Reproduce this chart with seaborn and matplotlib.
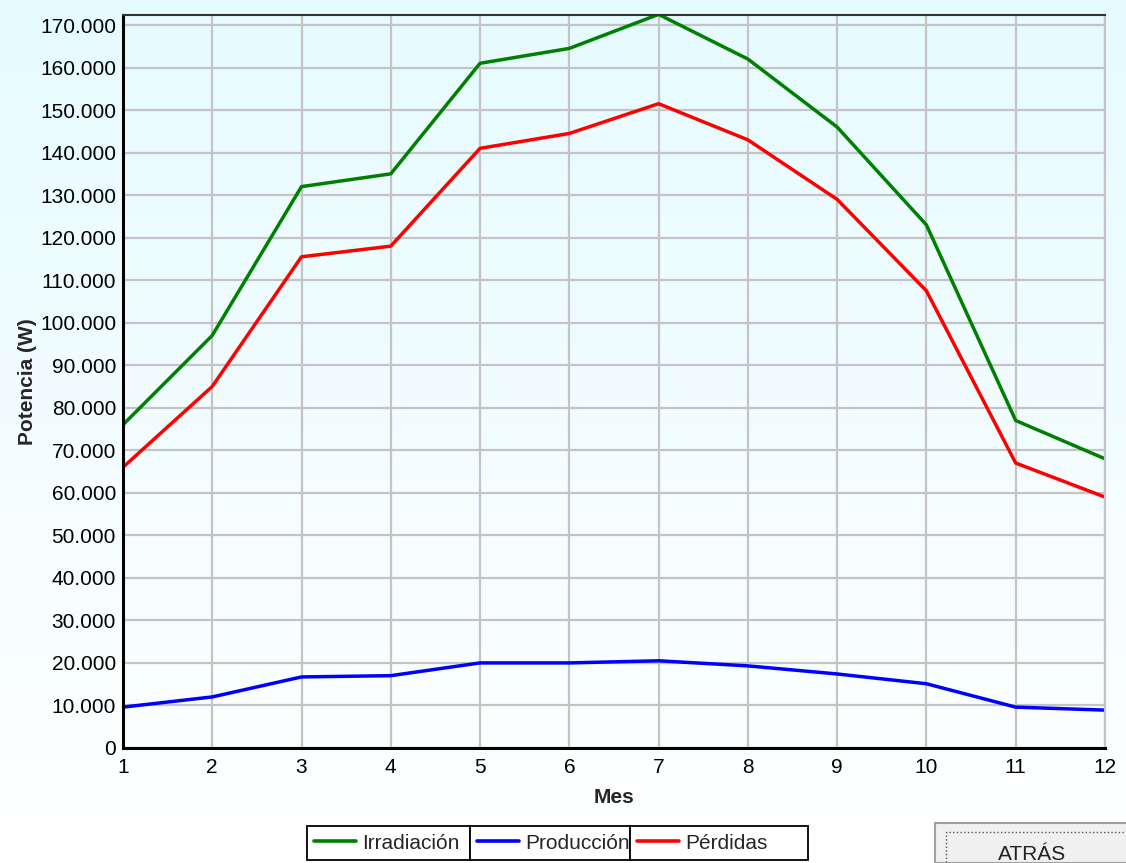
import numpy as np
import pandas as pd
import matplotlib
matplotlib.use("Agg")
import matplotlib.pyplot as plt
import seaborn as sns
from matplotlib.ticker import FuncFormatter, MultipleLocator
from matplotlib.lines import Line2D
from matplotlib.patches import Rectangle

# datos (W)
meses = [1, 2, 3, 4, 5, 6, 7, 8, 9, 10, 11, 12]
irradiacion = [76000, 97000, 132000, 135000, 161000, 164500, 172500, 162000, 146000, 123000, 77000, 68000]
produccion = [9600, 12000, 16700, 17000, 20000, 20000, 20500, 19300, 17400, 15100, 9600, 8900]
perdidas = [66000, 85000, 115500, 118000, 141000, 144500, 151500, 143000, 129000, 107500, 67000, 59000]
series = ["Irradiación", "Producción", "Pérdidas"]
colores = ["#008000", "#0000ff", "#ff0000"]

df = pd.DataFrame({"Mes": meses * 3,
                   "Potencia": irradiacion + produccion + perdidas,
                   "Serie": [s for s in series for _ in meses]})

sns.set_style("white")
plt.rcParams['font.family'] = ['Liberation Sans', 'DejaVu Sans']

fig = plt.figure(figsize=(11.26, 8.63), dpi=100)

# fondo degradado (cian claro arriba -> blanco abajo)
bg = fig.add_axes([0, 0, 1, 1], zorder=-10)
grad = np.linspace(0, 1, 256).reshape(-1, 1)
cmap = matplotlib.colors.LinearSegmentedColormap.from_list("bg", ["#e6fbff", "#ffffff"])
bg.imshow(grad, aspect="auto", cmap=cmap, extent=[0, 1, 0, 1])
bg.axis("off")

ax = fig.add_axes([0.1092, 0.1333, 0.8721, 0.8493])
ax.patch.set_alpha(0)

sns.lineplot(data=df, x="Mes", y="Potencia", hue="Serie", palette=colores,
             linewidth=2.5, ax=ax, legend=False)

ax.set_xlim(1, 12)
ax.set_ylim(0, max(irradiacion) - 150)
ax.xaxis.set_major_locator(MultipleLocator(1))
ax.yaxis.set_major_locator(MultipleLocator(10000))
ax.yaxis.set_major_formatter(FuncFormatter(lambda v, p: "0" if v == 0 else f"{int(v):,}".replace(",", ".")))
ax.grid(True, color="#c4c4c4", linewidth=1.6)
ax.set_axisbelow(True)

for s in ["left", "bottom"]:
    ax.spines[s].set_color("black")
    ax.spines[s].set_linewidth(2.2)
ax.spines["top"].set_color("#333333")
ax.spines["top"].set_linewidth(1.5)
ax.spines["right"].set_color("#c4c4c4")
ax.spines["right"].set_linewidth(1.6)

ax.tick_params(axis="both", labelsize=15, colors="black", length=3, width=1, direction="out")
ax.tick_params(axis="x", pad=4)
ax.tick_params(axis="y", pad=2)
ax.set_xlabel("Mes", fontsize=15, fontweight="bold", labelpad=8)
ax.set_ylabel("Potencia (W)", fontsize=15, fontweight="bold", labelpad=2)

# leyenda: tres cajas contiguas
cajas = [(0.2726, 0.1448), (0.4174, 0.1421), (0.5595, 0.1581)]
for nombre, col, (xa, w) in zip(series, colores, cajas):
    h = Line2D([], [], color=col, linewidth=2.6)
    leg = fig.legend([h], [nombre], loc="lower left", bbox_to_anchor=(xa, 0.0035, w, 0.038),
                     mode="expand", frameon=True, fancybox=False, edgecolor="black", fontsize=15,
                     handlelength=2.0, handletextpad=0.3, borderpad=0.35, borderaxespad=0)
    leg.get_frame().set_linewidth(1.3)
    leg.get_frame().set_facecolor("white")
    leg.get_frame().set_alpha(1)

# boton
fig.patches.append(Rectangle((0.8304, 0.0), 0.18, 0.0463, transform=fig.transFigure,
                             facecolor="#f0f0f0", edgecolor="#a0a0a0", linewidth=1.5))
fig.patches.append(Rectangle((0.840, -0.01), 0.18, 0.0463, transform=fig.transFigure,
                             facecolor="none", edgecolor="#555555", linewidth=1, linestyle=":"))
fig.text(0.9165, 0.0100, "ATRÁS", ha="center", va="center", fontsize=15, color="#222222")

fig.savefig("out.png", dpi=100)
